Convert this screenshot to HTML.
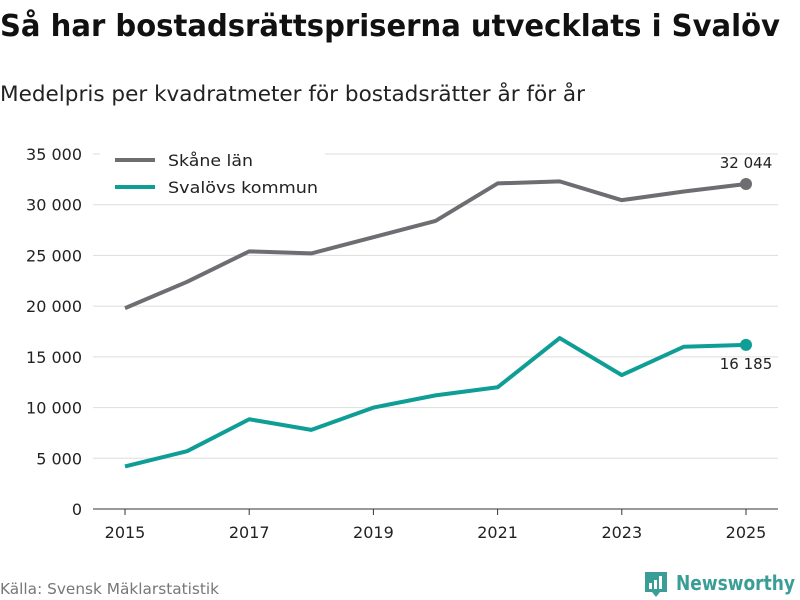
<!DOCTYPE html>
<html><head><meta charset="utf-8"><style>
body{margin:0;background:#fff;font-family:"Liberation Sans","DejaVu Sans",sans-serif;}
#c{position:relative;width:800px;height:600px;overflow:hidden}
</style></head><body>
<div id="c">
<svg id="s" width="800" height="600" xmlns="http://www.w3.org/2000/svg">
<text x="0" y="36" font-size="30" font-weight="bold" fill="#111" font-family="DejaVu Sans, sans-serif" textLength="780" lengthAdjust="spacingAndGlyphs">Så har bostadsrättspriserna utvecklats i Svalöv</text>
<text x="0" y="101" font-size="21" fill="#222" font-family="DejaVu Sans, sans-serif" textLength="585" lengthAdjust="spacingAndGlyphs">Medelpris per kvadratmeter för bostadsrätter år för år</text>
<g id="grid"></g><g id="axes"></g><g id="lines"></g>
<g>
<rect x="100" y="148" width="225" height="56" fill="#fff"/>
<line x1="115" y1="160" x2="155" y2="160" stroke="#6e6d72" stroke-width="4"/>
<text x="168" y="166" font-size="16" fill="#222" font-family="DejaVu Sans, sans-serif" textLength="85" lengthAdjust="spacingAndGlyphs">Skåne län</text>
<line x1="115" y1="187" x2="155" y2="187" stroke="#0f9e96" stroke-width="4"/>
<text x="168" y="193" font-size="16" fill="#222" font-family="DejaVu Sans, sans-serif" textLength="150" lengthAdjust="spacingAndGlyphs">Svalövs kommun</text>
</g>
<text x="0" y="594" font-size="15" fill="#777" font-family="DejaVu Sans, sans-serif" textLength="219" lengthAdjust="spacingAndGlyphs">Källa: Svensk Mäklarstatistik</text>
<g>
<path d="M645 572 h22 v20 h-7 l-4 5 l-4 -5 h-7 z" fill="#3a9e96"/>
<rect x="649" y="583" width="3" height="6" fill="#fff"/><rect x="654" y="580" width="3" height="9" fill="#fff"/><rect x="659" y="576" width="3" height="13" fill="#fff"/>
<text x="676" y="590" font-size="20" font-weight="bold" fill="#3a9e96" font-family="DejaVu Sans, sans-serif" textLength="119" lengthAdjust="spacingAndGlyphs">Newsworthy</text>
</g>
</svg></div>
<script>
const years=[2015,2016,2017,2018,2019,2020,2021,2022,2023,2024,2025];
const skane=[19800,22400,25400,25200,26800,28400,32100,32300,30450,31300,32044];
const svalov=[4200,5700,8850,7800,10000,11200,12000,16850,13200,16000,16185];
const yTicks=[0,5000,10000,15000,20000,25000,30000,35000];
const xTicks=[2015,2017,2019,2021,2023,2025];
const NS="http://www.w3.org/2000/svg";
const x=v=>125+(v-2015)*(746-125)/10;
const y=v=>509-v*(509-154)/35000;
const fmt=v=>String(v).replace(/\B(?=(\d{3})+(?!\d))/g," ");
function mk(t,a,p){const e=document.createElementNS(NS,t);for(const k in a)e.setAttribute(k,a[k]);p.appendChild(e);return e;}
const G=document.getElementById('grid'),A=document.getElementById('axes'),L=document.getElementById('lines');
yTicks.forEach(v=>{
 const l=mk('line',{x1:93,x2:778,y1:y(v),y2:y(v),stroke:v===0?'#333':'#ddd','stroke-width':1},G);
 
 
 const t=mk('text',{x:82,y:y(v)+6,'text-anchor':'end','font-size':16,fill:'#222','font-family':'DejaVu Sans, sans-serif'},A);
 t.textContent=fmt(v);
 
 
});
xTicks.forEach(v=>{
 const k=mk('line',{x1:x(v),x2:x(v),y1:509,y2:515,stroke:'#333'},A);
 
 
 const t=mk('text',{x:x(v),y:538,'text-anchor':'middle','font-size':16,fill:'#222','font-family':'DejaVu Sans, sans-serif'},A);
 t.textContent=v;
 
 
});
function series(vals,col,name,labelDy){
 const p=mk('polyline',{points:vals.map((v,i)=>x(years[i])+','+y(v)).join(' '),fill:'none',stroke:col,'stroke-width':4,'stroke-linejoin':'round'},L);
 
 
 const n=vals.length-1;
 const c=mk('circle',{cx:x(years[n]),cy:y(vals[n]),r:6,fill:col},L);
 
 
 const t=mk('text',{x:x(years[n]),y:y(vals[n])+labelDy,'text-anchor':'middle','font-size':15,fill:'#222','font-family':'DejaVu Sans, sans-serif'},L);
 t.textContent=fmt(vals[n]);
 
 
}
series(skane,'#6e6d72','skane',-16);
series(svalov,'#0f9e96','svalov',24);
</script>
</body></html>
